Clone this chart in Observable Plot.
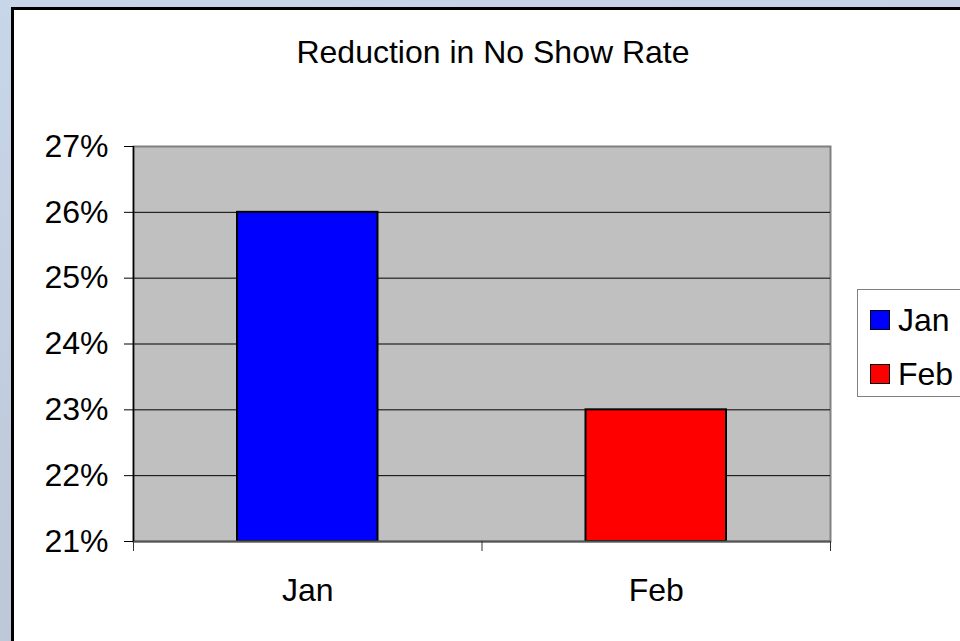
<!DOCTYPE html>
<html><head><meta charset="utf-8">
<script src="https://cdn.jsdelivr.net/npm/d3@7"></script>
<script src="https://cdn.jsdelivr.net/npm/@observablehq/plot@0.6"></script>
<style>
body{margin:0;}
#wrap{position:relative;width:960px;height:641px;overflow:hidden;background:linear-gradient(170deg,#c8d6ea 0%,#bfcbdb 60%,#b9c5d5 100%);font-family:Arial,"Liberation Sans",sans-serif;color:#000;}
#card{position:absolute;left:11px;top:7px;width:960px;height:660px;background:#fff;border:3px solid #000;}
#chart{position:absolute;left:0;top:0;}
#title{position:absolute;left:493px;top:36px;transform:translateX(-50%);font-size:32px;line-height:32px;white-space:nowrap;}
#legend{position:absolute;left:857px;top:289px;width:140px;height:106px;background:#fff;border:1px solid #808080;}
.row{position:absolute;left:12px;display:flex;align-items:center;height:30px;font-size:32px;line-height:30px;white-space:nowrap;}
.sw{width:18px;height:18px;border:1px solid #000;margin-right:8px;}
</style></head>
<body>
<div id="wrap">
  <div id="card"></div>
  <div id="chart"></div>
  <div id="title"></div>
  <div id="legend"></div>
</div>
<script>
const categories = ["Jan", "Feb"];
const values = [0.26, 0.23];
const colors = ["#0000ff", "#ff0000"];
const yTicks = [0.21, 0.22, 0.23, 0.24, 0.25, 0.26, 0.27];
const titleText = "Reduction in No Show Rate";

const yDomain = [yTicks[0], yTicks[yTicks.length - 1]];
const data = categories.map((c, i) => ({category: c, index: i, value: values[i]}));

document.getElementById("title").textContent = titleText;

const chart = Plot.plot({
  width: 960,
  height: 641,
  marginLeft: 133,
  marginRight: 130,
  marginTop: 146,
  marginBottom: 100,
  style: {background: "transparent", fontFamily: "Arial, 'Liberation Sans', sans-serif", fontSize: "32px", color: "#000"},
  x: {type: "linear", domain: [0, categories.length], label: null},
  y: {domain: yDomain, label: null},
  color: {domain: categories, range: colors},
  marks: [
    Plot.frame({fill: "#c0c0c0", stroke: "#808080", strokeWidth: 2}),
    Plot.ruleY(yTicks.slice(1, -1), {stroke: "#000", strokeWidth: 1}),
    Plot.rectY(data, {
      x1: "index", x2: d => d.index + 1,
      y1: yDomain[0], y2: "value",
      fill: "category", stroke: "#000", strokeWidth: 2,
      insetLeft: 104, insetRight: 104
    }),
    Plot.ruleY([yDomain[0]], {stroke: "#555", strokeWidth: 2}),
    Plot.ruleX([0], {stroke: "#000", strokeWidth: 1.5}),
    Plot.axisY({ticks: yTicks, tickFormat: d3.format(".0%"), tickSize: 9, tickPadding: 16, fontSize: 32, stroke: "#000", label: null}),
    Plot.axisX({ticks: d3.range(categories.length + 1), tickFormat: () => "", tickSize: 10, stroke: "#333", label: null}),
    Plot.axisX({ticks: categories.map((c, i) => i + 0.5), tickFormat: t => categories[Math.floor(t)], tickSize: 0, tickPadding: 37, fontSize: 32, label: null})
  ]
});
document.getElementById("chart").appendChild(chart);

const legend = document.getElementById("legend");
categories.forEach((c, i) => {
  const row = document.createElement("div");
  row.className = "row";
  row.style.top = (15 + i * 54) + "px";
  const sw = document.createElement("div");
  sw.className = "sw";
  sw.style.background = colors[i];
  const t = document.createElement("span");
  t.textContent = c;
  row.appendChild(sw);
  row.appendChild(t);
  legend.appendChild(row);
});
</script>
</body></html>
